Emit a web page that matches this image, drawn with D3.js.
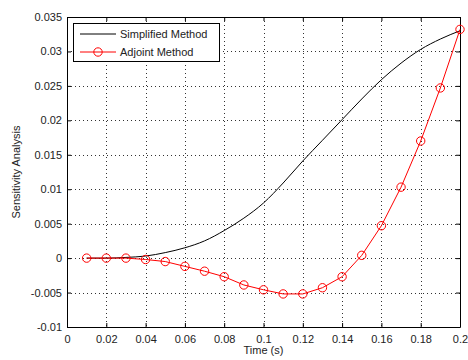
<!DOCTYPE html>
<html>
<head>
<meta charset="utf-8">
<script src="https://cdn.jsdelivr.net/npm/d3@7"></script>
<style>
  body { margin: 0; background: #fff; }
  text { font-family: "Liberation Sans", Arial, sans-serif; }
</style>
</head>
<body>
<div id="chart"></div>
<script>
const times = [0.01, 0.02, 0.03, 0.04, 0.05, 0.06, 0.07, 0.08, 0.09, 0.1,
  0.11, 0.12, 0.13, 0.14, 0.15, 0.16, 0.17, 0.18, 0.19, 0.2];
const simplified = [0, 0, 0.0001, 0.0003, 0.0008, 0.0015, 0.0025, 0.004, 0.0058, 0.008,
  0.0109, 0.0141, 0.0171, 0.0201, 0.0231, 0.0259, 0.0283, 0.0303, 0.0318, 0.033];
const adjoint = [0, 0, 0, -0.0002, -0.0005, -0.0012, -0.0019, -0.0027, -0.0039, -0.0046,
  -0.0052, -0.0052, -0.0043, -0.0027, 0.0004, 0.0047, 0.0103, 0.017, 0.0247, 0.0332];
const xTicks = [0, 0.02, 0.04, 0.06, 0.08, 0.1, 0.12, 0.14, 0.16, 0.18, 0.2];
const yTicks = [-0.01, -0.005, 0, 0.005, 0.01, 0.015, 0.02, 0.025, 0.03, 0.035];
const seriesNames = ["Simplified Method", "Adjoint Method"];

const w = 468, h = 360;
const m = { left: 67, right: 8, top: 17, bottom: 33 };

const svg = d3.select("#chart").append("svg")
  .attr("width", w).attr("height", h)
  .style("background", "#fff");

const x = d3.scaleLinear().domain([0, 0.2]).range([m.left, w - m.right]);
const y = d3.scaleLinear().domain([-0.01, 0.035]).range([h - m.bottom, m.top]);

const fmt = (d) => String(+d.toFixed(4));

// grid
const grid = svg.append("g").attr("stroke", "#000").attr("stroke-width", 1)
  .attr("stroke-dasharray", "1,3").attr("shape-rendering", "crispEdges").attr("opacity", 0.8);
xTicks.slice(1, -1).forEach((t) => {
  grid.append("line").attr("x1", Math.round(x(t)) + 0.5).attr("x2", Math.round(x(t)) + 0.5)
    .attr("y1", y(0.035)).attr("y2", y(-0.01));
});
yTicks.slice(1, -1).forEach((t) => {
  grid.append("line").attr("y1", Math.round(y(t)) + 0.5).attr("y2", Math.round(y(t)) + 0.5)
    .attr("x1", x(0)).attr("x2", x(0.2));
});

// axes (ticks inward)
const axB = svg.append("g").attr("transform", `translate(0,${y(-0.01)})`)
  .call(d3.axisBottom(x).tickValues(xTicks).tickFormat(fmt).tickSizeInner(-4).tickSizeOuter(0).tickPadding(8));
const axT = svg.append("g").attr("transform", `translate(0,${y(0.035)})`)
  .call(d3.axisTop(x).tickValues(xTicks).tickFormat("").tickSizeInner(-4).tickSizeOuter(0));
const axL = svg.append("g").attr("transform", `translate(${x(0)},0)`)
  .call(d3.axisLeft(y).tickValues(yTicks).tickFormat(fmt).tickSizeInner(-4).tickSizeOuter(0).tickPadding(5));
const axR = svg.append("g").attr("transform", `translate(${x(0.2)},0)`)
  .call(d3.axisRight(y).tickValues(yTicks).tickFormat("").tickSizeInner(-4).tickSizeOuter(0));
[axB, axT, axL, axR].forEach((a) => {
  a.selectAll("text").style("font-size", "11px").attr("fill", "#222");
  a.selectAll("path, line").attr("stroke", "#000");
  a.attr("font-family", null);
});

// lines
const line = (vals) => d3.line().x((d, i) => x(times[i])).y((d) => y(d))(vals);
svg.append("path").attr("d", d3.line().curve(d3.curveMonotoneX)
  .x((d, i) => x(times[i])).y((d) => y(d))(simplified))
  .attr("fill", "none").attr("stroke", "#000").attr("stroke-width", 1);
svg.append("path").attr("d", line(adjoint))
  .attr("fill", "none").attr("stroke", "#ff0000").attr("stroke-width", 1);
svg.selectAll(".mk").data(adjoint).enter().append("circle")
  .attr("cx", (d, i) => x(times[i])).attr("cy", (d) => y(d)).attr("r", 4.2)
  .attr("fill", "none").attr("stroke", "#ff0000").attr("stroke-width", 1);

// legend
const lg = svg.append("g");
lg.append("rect").attr("x", 73.5).attr("y", 23.5).attr("width", 146).attr("height", 38)
  .attr("fill", "#fff").attr("stroke", "#000").attr("stroke-width", 1);
const ly = [34, 52];
lg.append("line").attr("x1", 80).attr("x2", 116).attr("y1", ly[0]).attr("y2", ly[0]).attr("stroke", "#000");
lg.append("line").attr("x1", 80).attr("x2", 116).attr("y1", ly[1]).attr("y2", ly[1]).attr("stroke", "#ff0000");
lg.append("circle").attr("cx", 98).attr("cy", ly[1]).attr("r", 4.2).attr("fill", "none").attr("stroke", "#ff0000");
seriesNames.forEach((n, i) => {
  lg.append("text").attr("x", 120).attr("y", ly[i]).attr("dy", "0.35em")
    .style("font-size", "11px").attr("fill", "#222").text(n);
});

// labels
svg.append("text").attr("x", (x(0) + x(0.2)) / 2).attr("y", 354).attr("text-anchor", "middle")
  .style("font-size", "11px").attr("fill", "#222").text("Time (s)");
svg.append("text").attr("transform", `translate(20,${(y(-0.01) + y(0.035)) / 2}) rotate(-90)`)
  .attr("text-anchor", "middle").style("font-size", "11px").attr("fill", "#222").text("Sensitivity Analysis");
</script>
</body>
</html>
